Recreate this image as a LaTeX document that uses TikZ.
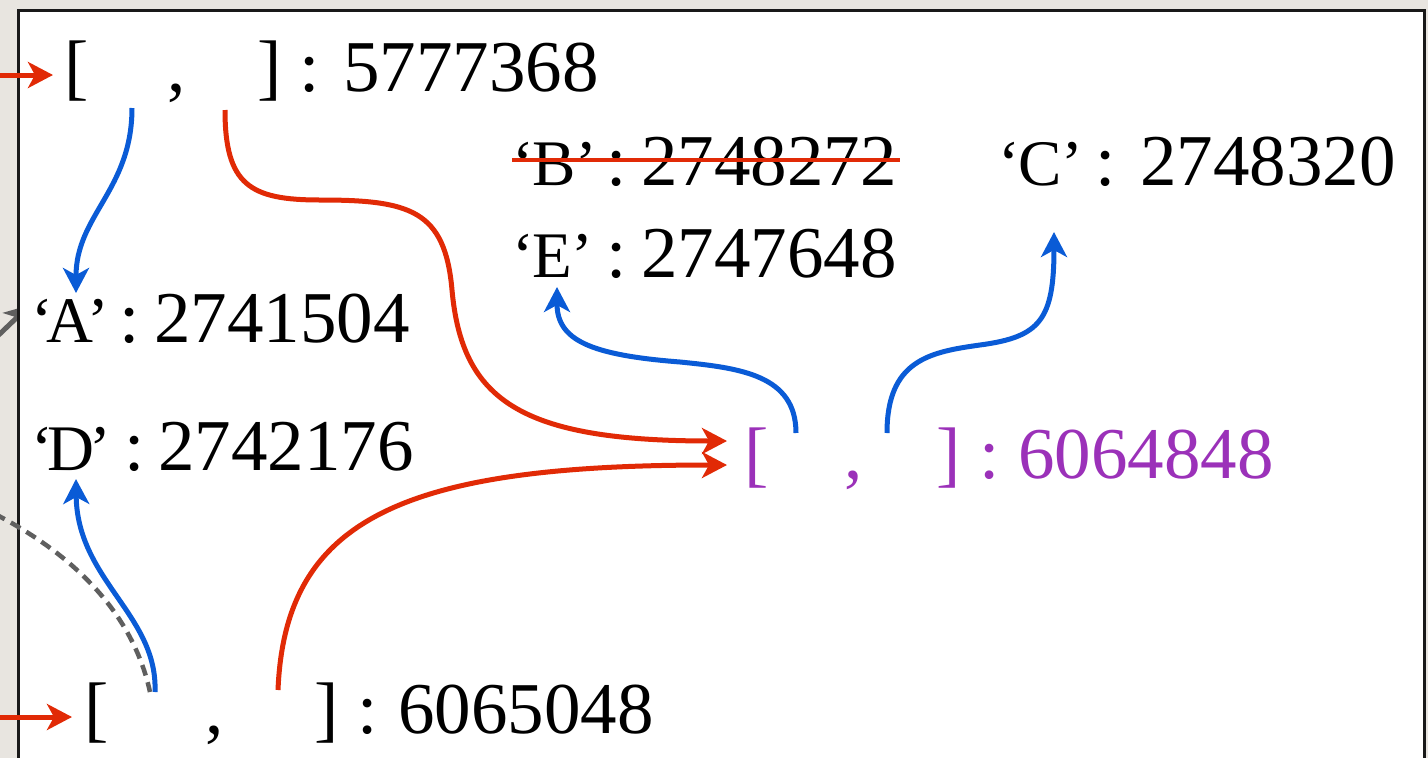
\documentclass[tikz,border=0pt]{standalone}
\usepackage{fontspec}
\setmainfont{Liberation Serif}
\usetikzlibrary{arrows.meta}
\definecolor{cred}{HTML}{E12A06}
\definecolor{cblue}{HTML}{0A5BD6}
\definecolor{cpurple}{HTML}{9B31B9}
\definecolor{cgrey}{HTML}{5F5F5F}
\definecolor{cbg}{HTML}{E8E5E0}
\newcommand\bigf{\fontsize{73}{80}\selectfont}
\newcommand\smf{\fontsize{65}{70}\selectfont}
\newcommand\qlet[2]{{\smf ‘\kern#2pt #1\kern#2pt’}}
\newcommand\kvrow[5]{\makebox[#1pt][l]{\qlet{#3}{#5}}\makebox[#2pt][l]{:}#4}
\begin{document}
\begin{tikzpicture}[x=1pt,y=-1pt,
  txt/.style={anchor=base west, inner sep=0pt, font=\bigf},
  tipst/.style={-{Stealth[length=25pt,width=26pt,inset=7pt]}},
  redlink/.style={tipst, draw=cred, line width=5pt},
  bluelink/.style={tipst, draw=cblue, line width=5pt},
  greylink/.style={draw=cgrey, line width=4.5pt, dash pattern=on 11pt off 7pt},
  greyarrow/.style={tipst, draw=cgrey, line width=5pt}]
\useasboundingbox (0,0) rectangle (1428,758);
\fill[cbg] (0,0) rectangle (1428,758);
% grey arrow entering from outside (mostly hidden by the box)
\coordinate (gA0) at (-40,372);
\coordinate (gA1) at (30,305);
\draw[greyarrow] (gA0) -- (gA1);
% box
\node[draw=black!90, line width=3pt, fill=white, minimum width=1406pt, minimum height=780pt, anchor=north west, inner sep=0pt] (frame) at (17,9) {};
% texts
\node[txt] (top) at (64,91) {\makebox[103pt][l]{[}\makebox[90pt][l]{,}\makebox[42pt][l]{]}\makebox[44pt][l]{:}5777368};
\node[txt] (bot) at (84,733) {\makebox[121pt][l]{[}\makebox[109pt][l]{,}\makebox[43pt][l]{]}\makebox[41pt][l]{:}6065048};
\node[txt, text=cpurple] (mid) at (744,478) {\makebox[100pt][l]{[}\makebox[92pt][l]{,}\makebox[43pt][l]{]}\makebox[39pt][l]{:}6064848};
\node[txt] (kB) at (512,185) {\kvrow{94}{35}{B}{2748272}{-1}};
\node[txt] (kC) at (998,185) {\kvrow{97}{45}{C}{2748320}{-1}};
\node[txt] (kE) at (512,277) {\kvrow{94}{35}{E}{2747648}{-1}};
\node[txt] (kA) at (31,342) {\kvrow{88}{35}{A}{2741504}{-6}};
\node[txt] (kD) at (31,470) {\kvrow{93}{34}{D}{2742176}{-5}};
% strike-through
\coordinate (sB1) at (512,160);
\coordinate (sB2) at (900,160);
\draw[cred, line width=4.5pt] (sB1) -- (sB2);
% endpoints
\coordinate (inTop) at (-2,75);
\coordinate (topIn) at (53,75);
\coordinate (inBot) at (-2,717);
\coordinate (botIn) at (72,717);
\coordinate (topL) at (132,108);
\coordinate (topR) at (225,110);
\coordinate (botL) at (155,692);
\coordinate (botR) at (278,690);
\coordinate (midL) at (796,433);
\coordinate (midR) at (887,433);
\coordinate (midIn1) at (727,441);
\coordinate (midIn2) at (727,465);
\coordinate (aTip) at (76,293);
\coordinate (dTip) at (76,479);
\coordinate (eTip) at (557,287);
\coordinate (cTip) at (1054,232);
\coordinate (gD0) at (-5,514);
\coordinate (gD1) at (150,692);
% connectors
\draw[greylink] (gD0) .. controls (55,545) and (130,600) .. (gD1);
\draw[redlink] (inTop) -- (topIn);
\draw[redlink] (inBot) -- (botIn);
\draw[bluelink] (topL) .. controls (132,190) and (76,215) .. (aTip);
\draw[bluelink] (botL) .. controls (158,615) and (77,580) .. (dTip);
\draw[redlink] (topR) .. controls (225,185) and (250,200) .. (320,200) .. controls (410,200) and (445,210) .. (452,290) .. controls (462,400) and (520,441) .. (midIn1);
\draw[redlink] (botR) .. controls (285,520) and (400,465) .. (midIn2);
\draw[bluelink] (midL) .. controls (796,375) and (740,368) .. (680,362) .. controls (590,355) and (557,340) .. (eTip);
\draw[bluelink] (midR) .. controls (887,360) and (930,352) .. (980,345) .. controls (1040,337) and (1054,320) .. (cTip);
\end{tikzpicture}
\end{document}
